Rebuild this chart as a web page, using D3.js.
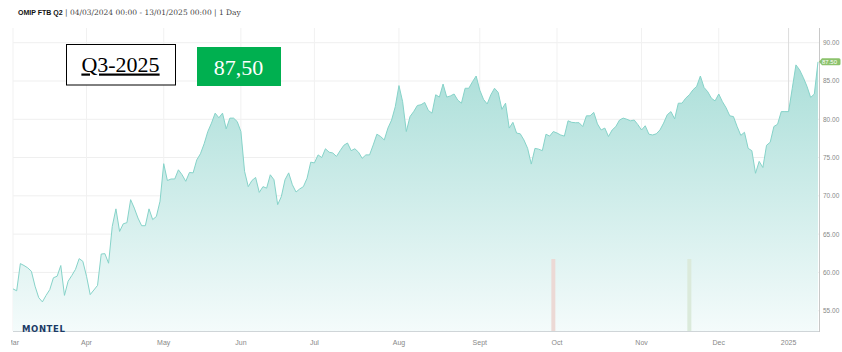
<!DOCTYPE html>
<html>
<head>
<meta charset="utf-8">
<script src="https://cdn.jsdelivr.net/npm/d3@7"></script>
<style>
  body { margin: 0; background: #fff; }
  svg { display: block; }
</style>
</head>
<body>
<svg width="842" height="352"></svg>
<script>
// daily closes, one per trading day, 04/03/2024 .. 13/01/2025
var prices = [
  57.85, 57.6, 61.15, 60.9, 60.6, 60.15, 58.2, 56.7, 56.15, 57.0,
  57.75, 59.3, 59.5, 60.9, 57.0, 58.85, 59.6, 60.4, 61.8, 61.45,
  59.5, 57.1, 57.7, 58.3, 62.4, 62.45, 61.2, 66.0, 68.3, 65.35,
  66.35, 66.5, 69.5, 68.4, 67.1, 66.1, 66.1, 68.3, 66.9, 67.3,
  69.3, 74.2, 72.0, 72.2, 72.2, 73.4, 72.75, 71.9, 73.05, 73.0,
  74.7, 75.5, 76.8, 78.4, 79.5, 80.8, 80.2, 80.8, 78.75, 80.15,
  80.15, 79.7, 78.4, 73.2, 71.2, 72.0, 72.4, 70.45, 71.2, 71.0,
  72.75, 72.1, 68.85, 69.9, 72.1, 73.0, 71.45, 70.5, 70.9, 71.2,
  72.3, 74.4, 74.3, 75.35, 75.0, 76.15, 75.7, 75.6, 75.15, 75.9,
  76.6, 76.9, 75.9, 76.15, 75.7, 74.9, 75.35, 75.35, 76.65, 78.05,
  77.75, 77.3, 78.85, 79.9, 81.65, 84.4, 82.3, 78.4, 80.35, 81.0,
  81.8, 81.9, 82.2, 81.15, 80.8, 83.2, 82.9, 84.6, 82.9, 83.05,
  83.3, 82.5, 82.1, 84.05, 84.05, 84.9, 85.65, 83.8, 82.6, 82.0,
  83.2, 84.05, 83.5, 81.3, 82.1, 78.85, 79.6, 78.2, 78.1, 77.3,
  76.2, 74.15, 76.2, 76.1, 75.9, 78.05, 77.8, 78.4, 78.2, 77.95,
  77.8, 79.8, 79.6, 79.55, 79.55, 79.05, 80.45, 80.45, 80.9, 79.4,
  78.6, 78.85, 77.75, 78.6, 79.05, 79.9, 80.15, 80.0, 79.8, 79.9,
  79.3, 78.6, 79.15, 78.05, 77.95, 78.1, 78.6, 79.5, 80.6, 81.0,
  80.05, 82.1, 82.1, 82.75, 83.2, 83.85, 84.3, 85.65, 84.15, 83.6,
  82.75, 82.4, 83.3, 82.3, 81.5, 80.45, 80.35, 79.05, 77.9, 78.3,
  76.2, 75.9, 72.95, 74.5, 73.7, 76.6, 77.0, 79.05, 79.35, 81.0,
  81.0, 81.0, 84.05, 87.1, 86.45, 85.45, 84.3, 82.85, 83.3, 87.5
];

var monthLabels = ["Mar", "Apr", "May", "Jun", "Jul", "Aug", "Sept", "Oct", "Nov", "Dec", "2025"];
var monthIdx = [0, 20, 41, 62, 82, 105, 127, 148, 171, 192, 211];

var yTicks = [55, 60, 65, 70, 75, 80, 85, 90];

// the two small markers near the bottom
var eventIdx = [147, 184];
var eventSize = [1, 1];
var eventColors = ["#ecd9d5", "#dbeadb"];

var lastPrice = 87.5;

var svg = d3.select("svg"),
  plot = { left: 13, right: 818, top: 28, bottom: 331 };

var x = d3.scaleLinear().domain([0, prices.length - 1]).range([plot.left, plot.right]);
var y = d3.scaleLinear().domain([55, 90]).range([310.7, 42.7]);
var ev = d3.scaleLinear().domain([0, 1]).range([plot.bottom, 259]);

var defs = svg.append("defs");
var grad = defs.append("linearGradient")
  .attr("id", "fillGrad")
  .attr("x1", 0).attr("x2", 0)
  .attr("gradientUnits", "userSpaceOnUse")
  .attr("y1", y(88)).attr("y2", plot.bottom);
grad.append("stop").attr("offset", "0%").attr("stop-color", "#a9ded8");
grad.append("stop").attr("offset", "100%").attr("stop-color", "#f4fbfb");

defs.append("clipPath").attr("id", "xclip")
  .append("rect").attr("x", 11).attr("y", 330).attr("width", 831).attr("height", 22);

// gridlines
svg.append("g")
  .selectAll("line")
  .data(yTicks)
  .enter()
  .append("line")
  .attr("x1", plot.left)
  .attr("x2", plot.right + 1)
  .attr("y1", function(d) { return y(d); })
  .attr("y2", function(d) { return y(d); })
  .attr("stroke", "#efefef");

svg.append("g")
  .selectAll("line")
  .data(monthIdx)
  .enter()
  .append("line")
  .attr("x1", function(d) { return x(d); })
  .attr("x2", function(d) { return x(d); })
  .attr("y1", plot.top)
  .attr("y2", plot.bottom)
  .attr("stroke", function(d, i) { return monthLabels[i] == "2025" ? "#dcdcdc" : "#f1f1f1"; });

// area + line
var area = d3.area()
  .x(function(d, i) { return x(i); })
  .y0(plot.bottom)
  .y1(function(d) { return y(d); });

var line = d3.line()
  .x(function(d, i) { return x(i); })
  .y(function(d) { return y(d); });

svg.append("path")
  .datum(prices)
  .attr("d", area)
  .attr("fill", "url(#fillGrad)");

svg.append("path")
  .datum(prices)
  .attr("d", line)
  .attr("fill", "none")
  .attr("stroke", "#86d3c9")
  .attr("stroke-width", 1);

// event bars
svg.append("g")
  .selectAll("rect")
  .data(eventIdx)
  .enter()
  .append("rect")
  .attr("x", function(d) { return x(d) - 2; })
  .attr("width", 4)
  .attr("y", function(d, i) { return ev(eventSize[i]); })
  .attr("height", function(d, i) { return plot.bottom - ev(eventSize[i]); })
  .attr("fill", function(d, i) { return eventColors[i]; });

// axis lines
svg.append("line")
  .attr("x1", plot.left).attr("x2", plot.right + 1)
  .attr("y1", plot.bottom + 0.5).attr("y2", plot.bottom + 0.5)
  .attr("stroke", "#cfd5d8");
svg.append("line")
  .attr("x1", plot.right + 1.5).attr("x2", plot.right + 1.5)
  .attr("y1", plot.top).attr("y2", plot.bottom + 1)
  .attr("stroke", "#c8c8c8");

// y axis labels
svg.append("g")
  .selectAll("text")
  .data(yTicks)
  .enter()
  .append("text")
  .attr("x", 823)
  .attr("y", function(d) { return y(d) + 2.5; })
  .attr("font-family", "Liberation Sans, Arial, sans-serif")
  .attr("font-size", "6.5px")
  .attr("fill", "#888")
  .text(function(d) { return d3.format(".2f")(d); });

// x axis labels
svg.append("g")
  .attr("clip-path", "url(#xclip)")
  .selectAll("text")
  .data(monthIdx)
  .enter()
  .append("text")
  .attr("x", function(d) { return x(d); })
  .attr("y", 345)
  .attr("text-anchor", "middle")
  .attr("font-family", "Liberation Sans, Arial, sans-serif")
  .attr("font-size", "7px")
  .attr("fill", "#888")
  .text(function(d, i) { return monthLabels[i]; });

// last price flag
var ly = y(lastPrice);
svg.append("path")
  .attr("d", "M" + (plot.right + 1) + "," + ly + " l3,-3.5 h17 a1.5,1.5 0 0 1 1.5,1.5 v4 a1.5,1.5 0 0 1 -1.5,1.5 h-17 z")
  .attr("fill", "#8cc26c");
svg.append("text")
  .attr("x", plot.right + 4)
  .attr("y", ly + 2.2)
  .attr("font-family", "Liberation Sans, Arial, sans-serif")
  .attr("font-size", "6px")
  .attr("fill", "#fff")
  .text(d3.format(".2f")(lastPrice));

// header
var head = svg.append("text").attr("x", 18).attr("y", 15);
head.append("tspan")
  .attr("font-family", "Liberation Sans, Arial, sans-serif")
  .attr("font-weight", "bold")
  .attr("font-size", "7px")
  .attr("fill", "#111")
  .text("OMIP FTB Q2");
head.append("tspan")
  .attr("font-family", "DejaVu Serif, Georgia, serif")
  .attr("font-size", "7.5px")
  .attr("fill", "#444")
  .text(" | 04/03/2024 00:00 - 13/01/2025 00:00 | 1 Day");

// contract box
svg.append("rect")
  .attr("x", 66.5).attr("y", 44.5).attr("width", 109).attr("height", 40.5)
  .attr("fill", "#fff").attr("stroke", "#000").attr("stroke-width", 1);
svg.append("text")
  .attr("x", 120.5).attr("y", 71.5)
  .attr("text-anchor", "middle")
  .attr("font-family", "Liberation Serif, Times New Roman, serif")
  .attr("font-size", "22px")
  .attr("text-decoration", "underline")
  .attr("fill", "#000")
  .text("Q3-2025");

svg.append("rect")
  .attr("x", 197).attr("y", 47).attr("width", 84).attr("height", 39)
  .attr("fill", "#00b050");
svg.append("text")
  .attr("x", 238.5).attr("y", 75)
  .attr("text-anchor", "middle")
  .attr("font-family", "Liberation Serif, Times New Roman, serif")
  .attr("font-size", "22px")
  .attr("fill", "#fff")
  .text("87,50");

// logo
svg.append("text")
  .attr("x", 22).attr("y", 332)
  .attr("font-family", "DejaVu Sans, sans-serif")
  .attr("font-weight", "bold")
  .attr("font-size", "8.5px")
  .attr("letter-spacing", "0.6px")
  .attr("fill", "#1b3a66")
  .text("MONTEL");
</script>
</body>
</html>
